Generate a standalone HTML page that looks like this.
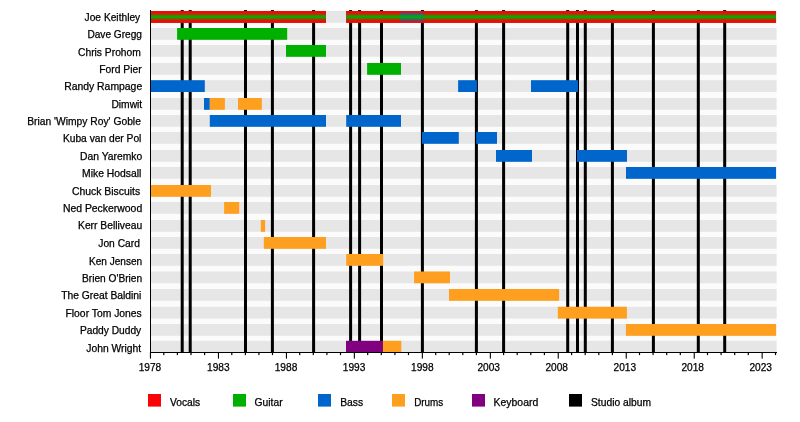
<!DOCTYPE html>
<html><head><meta charset="utf-8"><title>Timeline</title>
<style>
html,body{margin:0;padding:0;background:#fff;}
body{width:800px;height:422px;overflow:hidden;position:relative;}
svg{position:absolute;left:0;top:0;filter:blur(0.4px);}
text{font-family:"Liberation Sans",sans-serif;font-size:10.15px;fill:#000;stroke:#000;stroke-width:0.25px;}
</style></head><body>
<svg width="800" height="422" viewBox="0 0 800 422">
<rect x="0" y="0" width="800" height="422" fill="#fff"/>
<rect x="150" y="11" width="626.6" height="341" fill="#fbfbfb"/>
<g fill="#e6e6e6">
<rect x="150.0" y="11.00" width="626.6" height="11.80"/>
<rect x="150.0" y="28.00" width="626.6" height="11.80"/>
<rect x="150.0" y="45.00" width="626.6" height="11.80"/>
<rect x="150.0" y="63.00" width="626.6" height="11.80"/>
<rect x="150.0" y="80.20" width="626.6" height="11.80"/>
<rect x="150.0" y="98.00" width="626.6" height="11.80"/>
<rect x="150.0" y="115.00" width="626.6" height="11.80"/>
<rect x="150.0" y="132.00" width="626.6" height="11.80"/>
<rect x="150.0" y="150.00" width="626.6" height="11.80"/>
<rect x="150.0" y="167.00" width="626.6" height="11.80"/>
<rect x="150.0" y="185.00" width="626.6" height="11.80"/>
<rect x="150.0" y="202.00" width="626.6" height="11.80"/>
<rect x="150.0" y="220.00" width="626.6" height="11.80"/>
<rect x="150.0" y="237.00" width="626.6" height="11.80"/>
<rect x="150.0" y="254.00" width="626.6" height="11.80"/>
<rect x="150.0" y="271.50" width="626.6" height="11.80"/>
<rect x="150.0" y="289.00" width="626.6" height="11.80"/>
<rect x="150.0" y="306.80" width="626.6" height="11.80"/>
<rect x="150.0" y="324.00" width="626.6" height="11.80"/>
<rect x="150.0" y="340.80" width="626.6" height="11.80"/>
</g>
<g fill="#000">
<rect x="180.7" y="10" width="3" height="342"/>
<rect x="188.7" y="10" width="3" height="342"/>
<rect x="244.0" y="10" width="3" height="342"/>
<rect x="270.9" y="10" width="3" height="342"/>
<rect x="312.1" y="10" width="3" height="342"/>
<rect x="349.1" y="10" width="3" height="342"/>
<rect x="358.1" y="10" width="3" height="342"/>
<rect x="380.0" y="10" width="3" height="342"/>
<rect x="420.9" y="10" width="3" height="342"/>
<rect x="474.9" y="10" width="3" height="342"/>
<rect x="502.1" y="10" width="3" height="342"/>
<rect x="566.2" y="10" width="3" height="342"/>
<rect x="576.0" y="10" width="3" height="342"/>
<rect x="583.8" y="10" width="3" height="342"/>
<rect x="610.9" y="10" width="3" height="342"/>
<rect x="651.9" y="10" width="3" height="342"/>
<rect x="696.8" y="10" width="3" height="342"/>
<rect x="723.2" y="10" width="3" height="342"/>
</g>
<g>
<defs><filter id="vb" color-interpolation-filters="sRGB" filterUnits="userSpaceOnUse" x="140" y="0" width="650" height="40"><feGaussianBlur stdDeviation="0.5 1.0"/></filter>
<clipPath id="c0"><rect x="150" y="11.00" width="176" height="11.80"/><rect x="346.2" y="11.00" width="429.8" height="11.80"/></clipPath></defs>
<rect x="150.0" y="11.00" width="176.0" height="11.80" fill="#ec0c05"/>
<rect x="346.2" y="11.00" width="429.8" height="11.80" fill="#ec0c05"/>
<g clip-path="url(#c0)"><g filter="url(#vb)">
<rect x="140" y="4" width="650" height="26" fill="#ec0c05"/>
<rect x="400" y="13.30" width="23.4" height="7.2" fill="#2456c4"/>
<rect x="140" y="14.90" width="650" height="4.0" fill="#00b000"/>
</g></g>
<rect x="177.1" y="28.00" width="110.1" height="11.80" fill="#00b000"/>
<rect x="286.0" y="45.00" width="40.0" height="11.80" fill="#00b000"/>
<rect x="367.1" y="63.00" width="33.9" height="11.80" fill="#00b000"/>
<rect x="150.0" y="80.20" width="54.8" height="11.80" fill="#0066cc"/>
<rect x="458.1" y="80.20" width="18.8" height="11.80" fill="#0066cc"/>
<rect x="531.0" y="80.20" width="47.0" height="11.80" fill="#0066cc"/>
<rect x="204.0" y="98.00" width="5.8" height="11.80" fill="#0066cc"/>
<rect x="209.8" y="98.00" width="15.1" height="11.80" fill="#ff9f20"/>
<rect x="238.0" y="98.00" width="23.8" height="11.80" fill="#ff9f20"/>
<rect x="209.8" y="115.00" width="116.2" height="11.80" fill="#0066cc"/>
<rect x="346.2" y="115.00" width="54.8" height="11.80" fill="#0066cc"/>
<rect x="421.9" y="132.00" width="36.9" height="11.80" fill="#0066cc"/>
<rect x="476.2" y="132.00" width="20.8" height="11.80" fill="#0066cc"/>
<rect x="496.0" y="150.00" width="36.0" height="11.80" fill="#0066cc"/>
<rect x="577.0" y="150.00" width="50.0" height="11.80" fill="#0066cc"/>
<rect x="626.0" y="167.00" width="150.0" height="11.80" fill="#0066cc"/>
<rect x="150.0" y="185.00" width="61.0" height="11.80" fill="#ff9f20"/>
<rect x="224.1" y="202.00" width="15.1" height="11.80" fill="#ff9f20"/>
<rect x="260.8" y="220.00" width="4.3" height="11.80" fill="#ff9f20"/>
<rect x="263.8" y="237.00" width="62.2" height="11.80" fill="#ff9f20"/>
<rect x="346.2" y="254.00" width="37.0" height="11.80" fill="#ff9f20"/>
<rect x="414.1" y="271.50" width="35.9" height="11.80" fill="#ff9f20"/>
<rect x="449.0" y="289.00" width="110.1" height="11.80" fill="#ff9f20"/>
<rect x="557.8" y="306.80" width="69.1" height="11.80" fill="#ff9f20"/>
<rect x="625.9" y="324.00" width="150.1" height="11.80" fill="#ff9f20"/>
<rect x="346.0" y="340.80" width="36.9" height="11.80" fill="#800080"/>
<rect x="382.9" y="340.80" width="18.4" height="11.80" fill="#ff9f20"/>
</g>
<g fill="#000">
<rect x="150" y="10" width="1" height="343"/>
<rect x="150" y="352" width="627" height="1"/>
<rect x="149.9" y="352" width="1.1" height="6.6"/>
<rect x="163.2" y="352" width="1.2" height="3.1"/>
<rect x="176.8" y="352" width="1.2" height="3.1"/>
<rect x="190.4" y="352" width="1.2" height="3.1"/>
<rect x="204.0" y="352" width="1.2" height="3.1"/>
<rect x="217.9" y="352" width="1.1" height="6.6"/>
<rect x="231.2" y="352" width="1.2" height="3.1"/>
<rect x="244.8" y="352" width="1.2" height="3.1"/>
<rect x="258.3" y="352" width="1.2" height="3.1"/>
<rect x="271.9" y="352" width="1.2" height="3.1"/>
<rect x="285.9" y="352" width="1.1" height="6.6"/>
<rect x="299.1" y="352" width="1.2" height="3.1"/>
<rect x="312.7" y="352" width="1.2" height="3.1"/>
<rect x="326.3" y="352" width="1.2" height="3.1"/>
<rect x="339.9" y="352" width="1.2" height="3.1"/>
<rect x="353.8" y="352" width="1.1" height="6.6"/>
<rect x="367.1" y="352" width="1.2" height="3.1"/>
<rect x="380.7" y="352" width="1.2" height="3.1"/>
<rect x="394.3" y="352" width="1.2" height="3.1"/>
<rect x="407.9" y="352" width="1.2" height="3.1"/>
<rect x="421.8" y="352" width="1.1" height="6.6"/>
<rect x="435.1" y="352" width="1.2" height="3.1"/>
<rect x="448.6" y="352" width="1.2" height="3.1"/>
<rect x="462.2" y="352" width="1.2" height="3.1"/>
<rect x="475.8" y="352" width="1.2" height="3.1"/>
<rect x="489.8" y="352" width="1.1" height="6.6"/>
<rect x="503.0" y="352" width="1.2" height="3.1"/>
<rect x="516.6" y="352" width="1.2" height="3.1"/>
<rect x="530.2" y="352" width="1.2" height="3.1"/>
<rect x="543.8" y="352" width="1.2" height="3.1"/>
<rect x="557.7" y="352" width="1.1" height="6.6"/>
<rect x="571.0" y="352" width="1.2" height="3.1"/>
<rect x="584.6" y="352" width="1.2" height="3.1"/>
<rect x="598.2" y="352" width="1.2" height="3.1"/>
<rect x="611.8" y="352" width="1.2" height="3.1"/>
<rect x="625.7" y="352" width="1.1" height="6.6"/>
<rect x="638.9" y="352" width="1.2" height="3.1"/>
<rect x="652.5" y="352" width="1.2" height="3.1"/>
<rect x="666.1" y="352" width="1.2" height="3.1"/>
<rect x="679.7" y="352" width="1.2" height="3.1"/>
<rect x="693.7" y="352" width="1.1" height="6.6"/>
<rect x="706.9" y="352" width="1.2" height="3.1"/>
<rect x="720.5" y="352" width="1.2" height="3.1"/>
<rect x="734.1" y="352" width="1.2" height="3.1"/>
<rect x="747.7" y="352" width="1.2" height="3.1"/>
<rect x="761.6" y="352" width="1.1" height="6.6"/>
<rect x="774.9" y="352" width="1.2" height="3.1"/>
</g>
<g>
<text x="84.6" y="20.8" textLength="55.6" lengthAdjust="spacingAndGlyphs">Joe Keithley</text>
<text x="87.4" y="37.8" textLength="54.6" lengthAdjust="spacingAndGlyphs">Dave Gregg</text>
<text x="78.0" y="55.7" textLength="62.9" lengthAdjust="spacingAndGlyphs">Chris Prohom</text>
<text x="99.3" y="72.8" textLength="42.4" lengthAdjust="spacingAndGlyphs">Ford Pier</text>
<text x="64.2" y="90.0" textLength="78.0" lengthAdjust="spacingAndGlyphs">Randy Rampage</text>
<text x="111.4" y="107.8" textLength="30.8" lengthAdjust="spacingAndGlyphs">Dimwit</text>
<text x="27.2" y="124.8" textLength="113.7" lengthAdjust="spacingAndGlyphs">Brian &#39;Wimpy Roy&#39; Goble</text>
<text x="62.9" y="142.3" textLength="78.5" lengthAdjust="spacingAndGlyphs">Kuba van der Pol</text>
<text x="80.0" y="159.8" textLength="62.2" lengthAdjust="spacingAndGlyphs">Dan Yaremko</text>
<text x="82.0" y="176.8" textLength="59.4" lengthAdjust="spacingAndGlyphs">Mike Hodsall</text>
<text x="72.0" y="194.8" textLength="68.2" lengthAdjust="spacingAndGlyphs">Chuck Biscuits</text>
<text x="62.9" y="211.8" textLength="79.3" lengthAdjust="spacingAndGlyphs">Ned Peckerwood</text>
<text x="78.0" y="229.4" textLength="64.2" lengthAdjust="spacingAndGlyphs">Kerr Belliveau</text>
<text x="98.3" y="246.8" textLength="41.6" lengthAdjust="spacingAndGlyphs">Jon Card</text>
<text x="89.0" y="264.7" textLength="53.2" lengthAdjust="spacingAndGlyphs">Ken Jensen</text>
<text x="82.0" y="282.0" textLength="60.2" lengthAdjust="spacingAndGlyphs">Brien O&#39;Brien</text>
<text x="61.2" y="298.8" textLength="80.2" lengthAdjust="spacingAndGlyphs">The Great Baldini</text>
<text x="65.5" y="316.6" textLength="76.3" lengthAdjust="spacingAndGlyphs">Floor Tom Jones</text>
<text x="79.9" y="333.8" textLength="61.3" lengthAdjust="spacingAndGlyphs">Paddy Duddy</text>
<text x="86.3" y="351.6" textLength="54.9" lengthAdjust="spacingAndGlyphs">John Wright</text>
</g>
<g text-anchor="middle">
<text x="149.9" y="371">1978</text>
<text x="218.3" y="371">1983</text>
<text x="286.0" y="371">1988</text>
<text x="354.1" y="371">1993</text>
<text x="422.3" y="371">1998</text>
<text x="488.7" y="371">2003</text>
<text x="556.7" y="371">2008</text>
<text x="624.8" y="371">2013</text>
<text x="692.7" y="371">2018</text>
<text x="760.7" y="371">2023</text>
</g>
<rect x="148.0" y="394" width="13" height="12.6" fill="#fa0306"/>
<text x="170.0" y="406" textLength="30.2" lengthAdjust="spacingAndGlyphs">Vocals</text>
<rect x="233.0" y="394" width="13" height="12.6" fill="#00b000"/>
<text x="254.6" y="406" textLength="28.0" lengthAdjust="spacingAndGlyphs">Guitar</text>
<rect x="318.0" y="394" width="13" height="12.6" fill="#0066cc"/>
<text x="340.2" y="406" textLength="23.0" lengthAdjust="spacingAndGlyphs">Bass</text>
<rect x="392.0" y="394" width="13" height="12.6" fill="#ff9f20"/>
<text x="414.2" y="406" textLength="29.0" lengthAdjust="spacingAndGlyphs">Drums</text>
<rect x="472.0" y="394" width="13" height="12.6" fill="#800080"/>
<text x="493.6" y="406" textLength="44.6" lengthAdjust="spacingAndGlyphs">Keyboard</text>
<rect x="569.0" y="394" width="13" height="12.6" fill="#000"/>
<text x="591.0" y="406" textLength="60.0" lengthAdjust="spacingAndGlyphs">Studio album</text>
</svg>
</body></html>
